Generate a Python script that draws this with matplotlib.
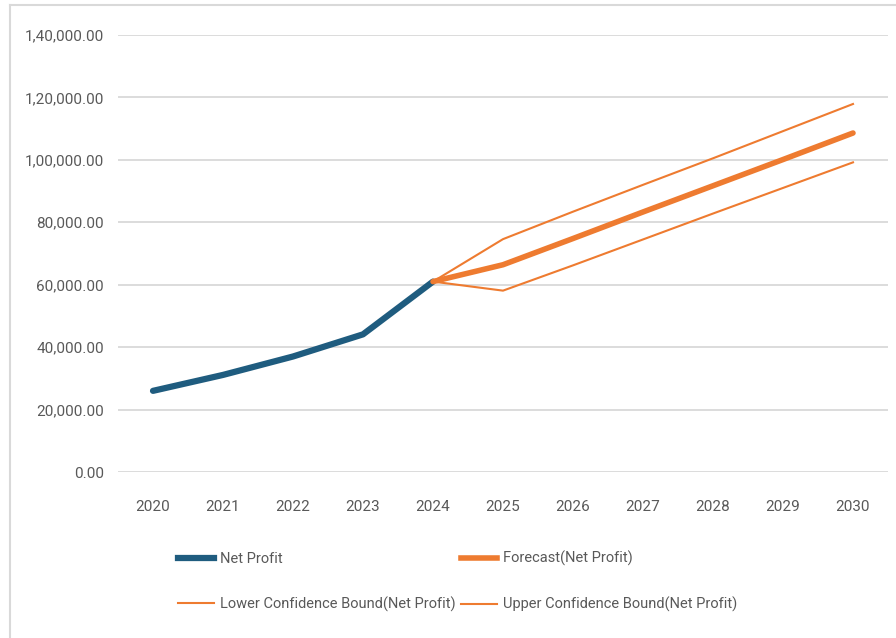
import matplotlib
matplotlib.use("Agg")
import matplotlib.pyplot as plt
from matplotlib.lines import Line2D
from matplotlib.ticker import FuncFormatter

# data
years = [2020, 2021, 2022, 2023, 2024, 2025, 2026, 2027, 2028, 2029, 2030]
net_profit = [26000, 31100, 37000, 44100, 61000]
forecast_years = [2024, 2025, 2026, 2027, 2028, 2029, 2030]
forecast = [61000, 66400, 74800, 83300, 91700, 100100, 108600]
lower_bound = [61000, 58100, 66200, 74500, 82800, 91000, 99200]
upper_bound = [61000, 74600, 83400, 92000, 100500, 109200, 117900]
y_ticks = [0, 20000, 40000, 60000, 80000, 100000, 120000, 140000]

blue = '#1f5c7f'
orange = '#ee7b30'
grey_text = '#595959'
grid_col = '#d9d9d9'

plt.rcParams['font.family'] = ['Roboto', 'DejaVu Sans']


def indian_fmt(v, pos=None):
    s = '%d' % int(round(v))
    if len(s) > 3:
        head, tail = s[:-3], s[-3:]
        parts = []
        while len(head) > 2:
            parts.insert(0, head[-2:])
            head = head[:-2]
        if head:
            parts.insert(0, head)
        s = ','.join(parts) + ',' + tail
    return s + '.00'


fig = plt.figure(figsize=(8.96, 6.38), dpi=100)
ax = fig.add_axes([118 / 896, 1 - 472 / 638, 770 / 896, 437 / 638])

ax.plot(years[:len(net_profit)], net_profit, color=blue, lw=4.5, solid_capstyle='round')
ax.plot(forecast_years, lower_bound, color=orange, lw=1.5)
ax.plot(forecast_years, upper_bound, color=orange, lw=1.5)
ax.plot(forecast_years, forecast, color=orange, lw=4, solid_capstyle='round')

ax.set_xlim(years[0] - 0.5, years[-1] + 0.5)
ax.set_ylim(0, 140000)
ax.set_xticks(years)
ax.set_yticks(y_ticks)
ax.yaxis.set_major_formatter(FuncFormatter(indian_fmt))
ax.grid(axis='y', color=grid_col, lw=1.3)
ax.set_axisbelow(True)
for sp in ax.spines.values():
    sp.set_visible(False)
ax.tick_params(length=0, labelsize=11, labelcolor=grey_text)
ax.tick_params(axis='y', pad=10)
ax.tick_params(axis='x', pad=20)

# frame lines (top and left only)
fig.add_artist(Line2D([10 / 896, 1], [1 - 5 / 638] * 2, color='#d9d9d9', lw=1.5))
fig.add_artist(Line2D([10 / 896] * 2, [0, 1 - 5 / 638], color='#d9d9d9', lw=1.5))

handles = [
    Line2D([], [], color=blue, lw=4.5),
    Line2D([], [], color=orange, lw=1.5),
    Line2D([], [], color=orange, lw=4),
    Line2D([], [], color=orange, lw=1.5),
]
labels = ['Net Profit', 'Lower Confidence Bound(Net Profit)',
          'Forecast(Net Profit)', 'Upper Confidence Bound(Net Profit)']
leg = fig.legend(handles, labels, ncol=2, loc='upper left',
                 bbox_to_anchor=(178 / 896, 1 - 551 / 638), frameon=False,
                 fontsize=10.5, labelcolor=grey_text, handlelength=2.5,
                 handletextpad=0.35, columnspacing=0.4, labelspacing=2.1,
                 borderaxespad=0, borderpad=0)

fig.savefig('out.png', dpi=100, facecolor='white')
